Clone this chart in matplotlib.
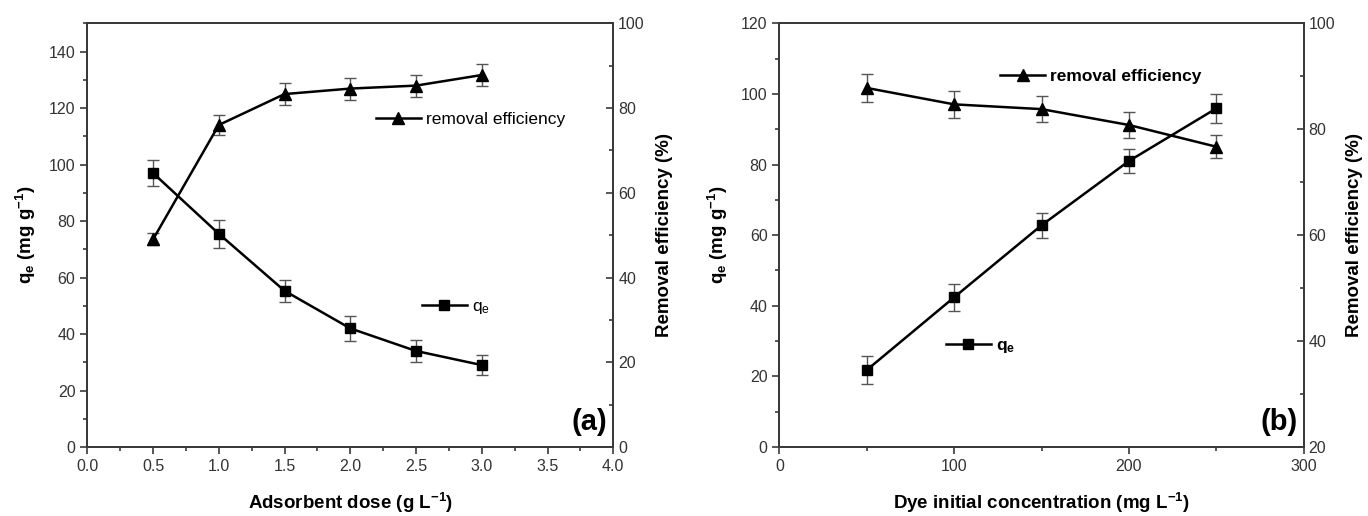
import numpy as np
import matplotlib
matplotlib.use("Agg")
import matplotlib.pyplot as plt
from matplotlib.ticker import MultipleLocator, FormatStrFormatter

plt.rcParams['font.family'] = ['Liberation Sans', 'DejaVu Sans']
plt.rcParams['mathtext.default'] = 'regular'

# ==========================================================
# datos
# ==========================================================
# (a) dosis de adsorbente
dose = [0.5, 1.0, 1.5, 2.0, 2.5, 3.0]
qe_dose = [97.0, 75.5, 55.3, 42.0, 34.0, 29.0]
qe_dose_err = [4.5, 4.9, 4.0, 4.3, 3.8, 3.5]
rem_dose = [49.0, 76.0, 83.3, 84.6, 85.3, 87.8]
rem_dose_err = [1.4, 2.3, 2.5, 2.6, 2.6, 2.7]

# (b) concentracion inicial
conc = [50, 100, 150, 200, 250]
qe_conc = [21.8, 42.4, 62.8, 81.0, 95.9]
qe_conc_err = [4.0, 3.9, 3.6, 3.4, 4.2]
rem_conc = [87.8, 84.7, 83.8, 80.8, 76.7]
rem_conc_err = [2.6, 2.5, 2.4, 2.4, 2.2]

SPINE = '#3a3a3a'
ERR = '#555555'
TICK_FS = 11.5
LABEL_FS = 13.5
LEG_FS = 12.5


def style_axes(ax, ax2):
    for s in list(ax.spines.values()) + list(ax2.spines.values()):
        s.set_color(SPINE)
        s.set_linewidth(1.4)
    ax.tick_params(which='both', direction='out', colors=SPINE, labelcolor='#333333',
                   labelsize=TICK_FS, top=False, right=False, width=1.2)
    ax.tick_params(which='major', length=5)
    ax.tick_params(which='minor', length=3)
    ax2.tick_params(which='both', direction='in', colors=SPINE, labelcolor='#333333',
                    labelsize=TICK_FS, width=1.2)
    ax2.tick_params(which='major', length=5)
    ax2.tick_params(which='minor', length=3)


def plot_panel(ax, x, qe, qe_err, rem, rem_err):
    ax2 = ax.twinx()
    h_q = ax.errorbar(x, qe, yerr=qe_err, fmt='-s', color='black', ecolor=ERR,
                      elinewidth=1.0, capsize=4, capthick=1.0, markersize=7.5, lw=1.8)
    h_r = ax2.errorbar(x, rem, yerr=rem_err, fmt='-^', color='black', ecolor=ERR,
                       elinewidth=1.0, capsize=4, capthick=1.0, markersize=8.5, lw=1.8)
    style_axes(ax, ax2)
    return ax2, h_q[0], h_r[0]


def add_legend(ax, handle, label, anchor, bold):
    prop = {'size': LEG_FS, 'weight': 'bold' if bold else 'normal'}
    leg = ax.legend(handles=[handle], labels=[label], loc='center left',
                    bbox_to_anchor=anchor, frameon=False, borderpad=0, borderaxespad=0,
                    handlelength=2.6, handletextpad=0.3, numpoints=1, prop=prop)
    return leg


fig = plt.figure(figsize=(13.68, 5.16), dpi=100)
axa = fig.add_axes([0.0638, 0.1337, 0.3845, 0.8211])
axb = fig.add_axes([0.5697, 0.1337, 0.3833, 0.8211])

# --- panel (a) ---
axa2, hq, hr = plot_panel(axa, dose, qe_dose, qe_dose_err, rem_dose, rem_dose_err)
axa.set_xlim(0, 4)
axa.set_ylim(0, 150)
axa2.set_ylim(0, 100)
axa.xaxis.set_major_locator(MultipleLocator(0.5))
axa.xaxis.set_minor_locator(MultipleLocator(0.25))
axa.xaxis.set_major_formatter(FormatStrFormatter('%.1f'))
axa.set_yticks(np.arange(0, 141, 20))
axa.yaxis.set_minor_locator(MultipleLocator(10))
axa2.yaxis.set_major_locator(MultipleLocator(20))
axa2.yaxis.set_minor_locator(MultipleLocator(10))
axa.set_xlabel('Adsorbent dose (g L$^{-1}$)', fontsize=LABEL_FS, fontweight='bold', labelpad=12)
axa.set_ylabel('q$_e$ (mg g$^{-1}$)', fontsize=LABEL_FS, fontweight='bold', labelpad=8)
axa2.set_ylabel('Removal efficiency (%)', fontsize=LABEL_FS, fontweight='bold', labelpad=8)
add_legend(axa2, hr, 'removal efficiency', (0.548, 0.774), False)
add_legend(axa, hq, 'q$_e$', (0.636, 0.33), False)
axa.text(0.988, 0.025, '(a)', transform=axa.transAxes, ha='right', va='bottom',
         fontsize=21, fontweight='bold')

# --- panel (b) ---
axb2, hq, hr = plot_panel(axb, conc, qe_conc, qe_conc_err, rem_conc, rem_conc_err)
axb.set_xlim(0, 300)
axb.set_ylim(0, 120)
axb2.set_ylim(20, 100)
axb.xaxis.set_major_locator(MultipleLocator(100))
axb.xaxis.set_minor_locator(MultipleLocator(50))
axb.yaxis.set_major_locator(MultipleLocator(20))
axb.yaxis.set_minor_locator(MultipleLocator(10))
axb2.yaxis.set_major_locator(MultipleLocator(20))
axb2.yaxis.set_minor_locator(MultipleLocator(10))
axb.set_xlabel('Dye initial concentration (mg L$^{-1}$)', fontsize=LABEL_FS, fontweight='bold', labelpad=12)
axb.set_ylabel('q$_e$ (mg g$^{-1}$)', fontsize=LABEL_FS, fontweight='bold', labelpad=8)
axb2.set_ylabel('Removal efficiency (%)', fontsize=LABEL_FS, fontweight='bold', labelpad=8)
add_legend(axb2, hr, 'removal efficiency', (0.421, 0.874), True)
add_legend(axb, hq, 'q$_e$', (0.317, 0.238), True)
axb.text(0.988, 0.025, '(b)', transform=axb.transAxes, ha='right', va='bottom',
         fontsize=21, fontweight='bold')

fig.savefig('out.png', dpi=100)
